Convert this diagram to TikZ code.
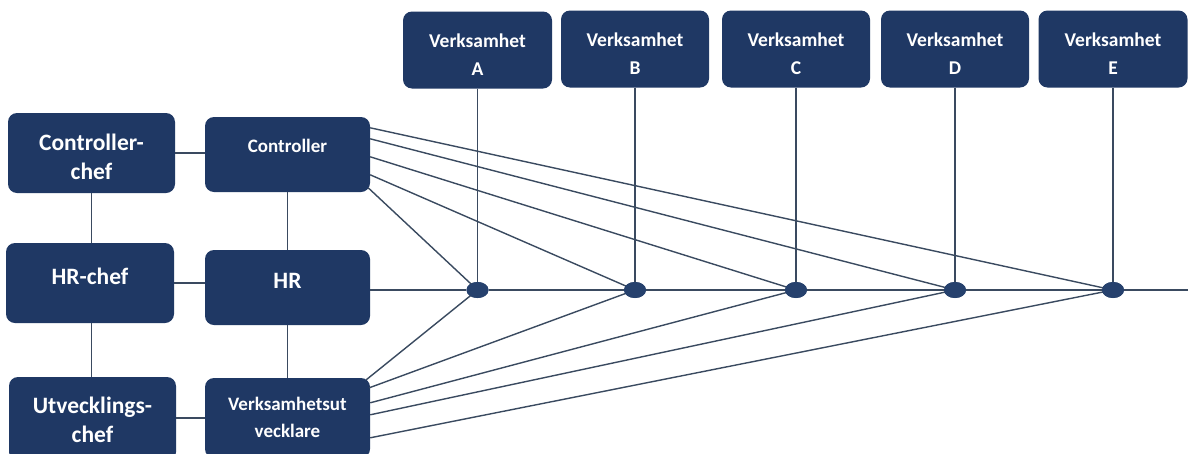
\documentclass[tikz,border=0pt]{standalone}
\usepackage{fontspec}
\setmainfont{Carlito}
\usetikzlibrary{calc,shapes.geometric}
\definecolor{navy}{HTML}{1F3864}
\definecolor{dotblue}{HTML}{26416D}
\definecolor{linkgrey}{HTML}{3A4A60}
\tikzset{
  box/.style={fill=navy, rounded corners=9pt, inner sep=0pt},
  bigbox/.style={box, minimum width=167pt, minimum height=80pt},
  midbox/.style={box, minimum width=165pt, minimum height=75pt},
  topbox/.style={box, minimum width=148pt, minimum height=77pt},
  txt/.style={text=white, align=center, inner sep=0pt},
  bigtxt/.style={txt, font=\bfseries\fontsize{23.5}{29}\selectfont},
  midtxt/.style={txt, font=\bfseries\fontsize{19}{27}\selectfont},
  toptxt/.style={txt, font=\bfseries\fontsize{19.5}{28}\selectfont},
  hub/.style={ellipse, fill=dotblue, minimum width=22pt, minimum height=16pt, inner sep=0pt},
  link/.style={draw=linkgrey, line width=1.4pt},
}
\begin{document}
\begin{tikzpicture}[x=1pt, y=-1pt]
\useasboundingbox (0,0) rectangle (1188,453);
\clip (0,0) rectangle (1188,453);
\fill[white] (0,0) rectangle (1188,453);

% left column: managers
\node[bigbox, label={[bigtxt, yshift=-4pt]center:{Controller-\\chef}}] (cc) at (91.5,153) {};
\node[bigbox, minimum width=168pt, label={[bigtxt, yshift=7pt]center:{HR-chef}}] (hc) at (90,283) {};
\node[bigbox, minimum height=84pt, label={[bigtxt, yshift=-1pt]center:{Utvecklings-\\chef}}] (uc) at (92.5,419) {};

% middle column: staff functions
\node[midbox, label={[midtxt, yshift=9pt]center:{Controller}}] (ctrl) at (287.5,154.5) {};
\node[midbox, label={[bigtxt, yshift=7pt]center:{HR}}] (hr) at (287.5,287.5) {};
\node[midbox, minimum height=80pt, label={[midtxt, yshift=1pt]center:{Verksamhetsut\\vecklare}}] (vu) at (287.5,418) {};

% top row: business units
\node[topbox, minimum width=149pt, label={[toptxt, yshift=-5pt]center:{Verksamhet\\A}}] (vA) at (477.5,50) {};
\node[topbox, label={[toptxt, yshift=-5pt]center:{Verksamhet\\B}}] (vB) at (635,49) {};
\node[topbox, label={[toptxt, yshift=-5pt]center:{Verksamhet\\C}}] (vC) at (796,49) {};
\node[topbox, label={[toptxt, yshift=-5pt]center:{Verksamhet\\D}}] (vD) at (955,49) {};
\node[topbox, minimum width=149pt, label={[toptxt, yshift=-5pt]center:{Verksamhet\\E}}] (vE) at (1113,49) {};

% hubs on the main line
\coordinate (lineY) at (0,290);
\node[hub] (dA) at (vA |- lineY) {};
\node[hub] (dB) at (vB |- lineY) {};
\node[hub] (dC) at (vC |- lineY) {};
\node[hub] (dD) at (vD |- lineY) {};
\node[hub] (dE) at (vE |- lineY) {};
\coordinate (rEnd) at (1188,290);

% fan start points on the Controller box
\coordinate (c1) at ([yshift=-11pt]ctrl.north east);
\coordinate (c2) at ([yshift=-22pt]ctrl.north east);
\coordinate (c3) at ([yshift=-40pt]ctrl.north east);
\coordinate (c4) at ([yshift=-58pt]ctrl.north east);
\coordinate (c5) at ([xshift=-2pt,yshift=-71pt]ctrl.north east);
% fan start points on the Verksamhetsutvecklare box
\coordinate (u1) at ([xshift=-4pt,yshift=-2pt]vu.north east);
\coordinate (u2) at ([xshift=-1pt,yshift=-10pt]vu.north east);
\coordinate (u3) at ([yshift=-25pt]vu.north east);
\coordinate (u4) at ([yshift=-37pt]vu.north east);
\coordinate (u5) at ([yshift=-60pt]vu.north east);

% grid links
\draw[link] (cc.east) -- (cc.east -| ctrl.west);
\draw[link] (hc.east) -- (hc.east -| hr.west);
\draw[link] (uc.east |- vu) -- (vu.west);
\draw[link] (cc.south) -- (cc.south |- hc.north);
\draw[link] (hc.south -| cc.south) -- (cc.south |- uc.north);
\draw[link] (ctrl.south) -- (hr.north);
\draw[link] (hr.south) -- (vu.north);

% main line
\draw[link] (hr.east |- lineY) -- (dA) -- (dB) -- (dC) -- (dD) -- (dE) -- (rEnd);

% units down to hubs
\foreach \u in {A,B,C,D,E} \draw[link] (v\u.south) -- (d\u.center);

% Controller fan
\draw[link] (c1) -- (dE.center);
\draw[link] (c2) -- (dD.center);
\draw[link] (c3) -- (dC.center);
\draw[link] (c4) -- (dB.center);
\draw[link] (c5) -- (dA.center);

% Verksamhetsutvecklare fan
\draw[link] (u1) -- (dA.center);
\draw[link] (u2) -- (dB.center);
\draw[link] (u3) -- (dC.center);
\draw[link] (u4) -- (dD.center);
\draw[link] (u5) -- (dE.center);

% hubs on top of the links
\foreach \u in {A,B,C,D,E} \fill[dotblue] (d\u) ellipse (11pt and 8pt);
\end{tikzpicture}
\end{document}
